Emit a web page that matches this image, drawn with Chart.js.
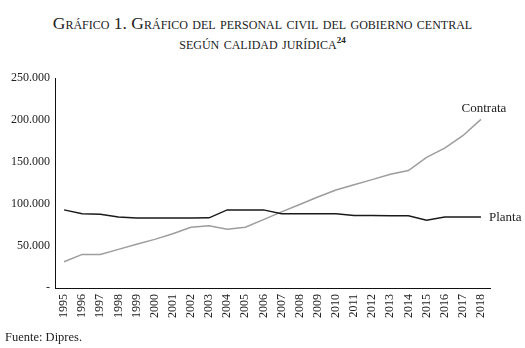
<!DOCTYPE html>
<html lang="es">
<head>
<meta charset="utf-8">
<title>Gráfico 1</title>
<script src="https://cdn.jsdelivr.net/npm/chart.js@4.4.1/dist/chart.umd.min.js"></script>
<style>
    html, body { margin: 0; padding: 0; background: #fff; }
    body { width: 525px; height: 348px; position: relative; overflow: hidden; }
    #chart { position: absolute; left: 0; top: 0; }
    .titulo {
        position: absolute; left: 0; width: 525px; top: 13px;
        text-align: center; font-family: "Liberation Serif", serif;
        font-variant: small-caps; font-size: 17.5px; line-height: 20px; color: #222;
    }
    .titulo sup { font-size: 9px; font-variant: normal; vertical-align: 6px; line-height: 0; font-weight: bold; }
    .fuente {
        position: absolute; left: 5px; top: 330px;
        font-family: "Liberation Serif", serif; font-size: 12.5px; color: #222;
    }
</style>
</head>
<body>
<div class="titulo">Gráfico 1. Gráfico del personal civil del gobierno central<br>según calidad jurídica<sup>24</sup></div>
<canvas id="chart" width="525" height="348"></canvas>
<div class="fuente">Fuente: Dipres.</div>
<script>
// Personal civil del gobierno central, por calidad jurídica
const years = ['1995', '1996', '1997', '1998', '1999', '2000', '2001', '2002', '2003', '2004', '2005', '2006',
    '2007', '2008', '2009', '2010', '2011', '2012', '2013', '2014', '2015', '2016', '2017', '2018'];
const planta = [93000, 88500, 87900, 84500, 83200, 83200, 83200, 83200, 83500, 93000, 93000, 93000,
    88300, 88300, 88300, 88300, 86300, 86300, 86000, 86000, 80800, 84400, 84400, 84400];
const contrata = [31300, 40000, 40000, 46000, 52000, 57900, 64600, 72300, 74200, 69900, 72300, 81400,
    90600, 99400, 108400, 116700, 122900, 129000, 135300, 139800, 155600, 166500, 181300, 200800];
const yTicks = [0, 50000, 100000, 150000, 200000, 250000];

const serif = 'Liberation Serif';

function formatMiles(v) {
    if (v === 0) return '-';
    return String(v).replace(/\B(?=(\d{3})+(?!\d))/g, '.');
}

// Etiquetas de serie al final de cada línea
const seriesLabels = {
    id: 'seriesLabels',
    afterDatasetsDraw(chart) {
        const ctx = chart.ctx;
        ctx.save();
        ctx.font = '13px "' + serif + '"';
        ctx.fillStyle = '#222';
        const c = chart.getDatasetMeta(1).data[years.length - 1];
        ctx.textAlign = 'center';
        ctx.textBaseline = 'bottom';
        ctx.fillText('Contrata', c.x + 3, c.y - 4);
        const p = chart.getDatasetMeta(0).data[years.length - 1];
        ctx.textAlign = 'left';
        ctx.textBaseline = 'middle';
        ctx.fillText('Planta', p.x + 8, p.y);
        ctx.restore();
    }
};

new Chart(document.getElementById('chart').getContext('2d'), {
    type: 'line',
    data: {
        labels: years,
        datasets: [{
            label: 'Planta',
            data: planta,
            borderColor: '#1a1a1a',
            borderWidth: 1.5,
            pointRadius: 0,
            tension: 0
        }, {
            label: 'Contrata',
            data: contrata,
            borderColor: '#9d9d9d',
            borderWidth: 1.5,
            pointRadius: 0,
            tension: 0
        }]
    },
    options: {
        responsive: false,
        animation: false,
        layout: { padding: { top: 78, right: 35, left: 0, bottom: 0 } },
        plugins: {
            legend: { display: false },
            tooltip: { enabled: false }
        },
        scales: {
            x: {
                offset: true,
                grid: { display: false, drawTicks: false },
                border: { display: true, color: '#111', width: 1 },
                afterFit: (scale) => { scale.height = 60; },
                ticks: {
                    minRotation: 90,
                    maxRotation: 90,
                    autoSkip: false,
                    padding: 6,
                    color: '#222',
                    font: { family: serif, size: 12 }
                }
            },
            y: {
                min: 0,
                max: 250000,
                grid: { display: false, drawTicks: false },
                border: { display: true, color: '#111', width: 1 },
                afterFit: (scale) => { scale.width = 55; },
                afterBuildTicks: (scale) => { scale.ticks = yTicks.map(v => ({ value: v })); },
                ticks: {
                    padding: 5,
                    color: '#222',
                    font: { family: serif, size: 12 },
                    callback: (v) => formatMiles(v)
                }
            }
        }
    },
    plugins: [seriesLabels]
});
</script>
</body>
</html>
